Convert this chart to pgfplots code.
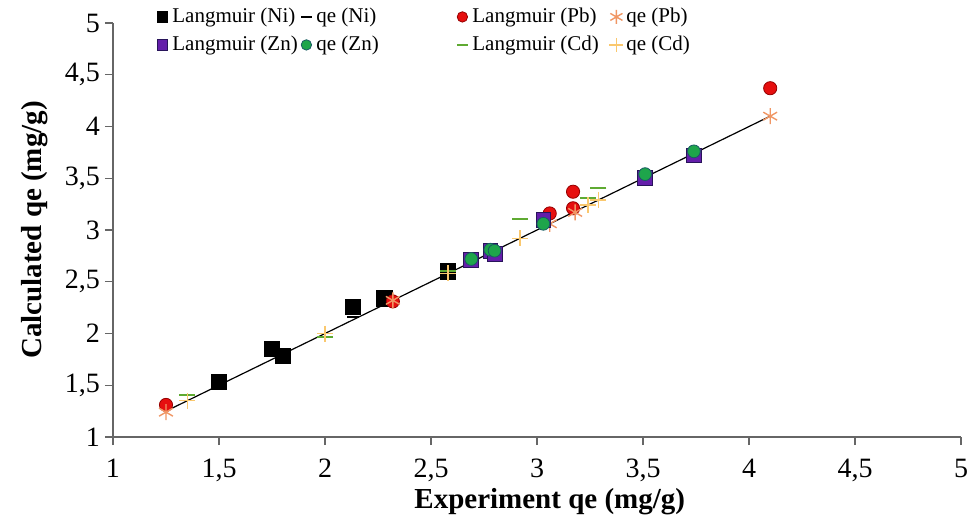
\documentclass[border=0pt]{standalone}
\usepackage{fontspec}
\setmainfont{Liberation Serif}
\usepackage{pgfplots}
\pgfplotsset{compat=1.18}
\definecolor{znfill}{RGB}{100,30,170}
\definecolor{zndraw}{RGB}{40,20,90}
\definecolor{pbfill}{RGB}{230,15,15}
\definecolor{pbdraw}{RGB}{150,0,0}
\definecolor{zngreen}{RGB}{30,165,75}
\definecolor{zngdraw}{RGB}{25,90,100}
\definecolor{cdgreen}{RGB}{95,170,50}
\definecolor{pbqe}{RGB}{240,150,100}
\definecolor{cdqe}{RGB}{250,200,110}
\pgfplotsset{
  lm/.style={only marks, legend image code/.code={%
    \path[draw=none,fill=none] (0pt,-3pt) rectangle (8.5pt,3pt);
    \draw[##1,mark size=#1] plot[only marks] coordinates {(4pt,0pt)};}},
  lm/.default=2.6pt,
}
\begin{document}
\begin{tikzpicture}
\begin{axis}[
  at={(56.5pt,39.5pt)}, anchor=south west,
  scale only axis, width=424pt, height=207pt,
  xmin=1, xmax=5, ymin=1, ymax=5,
  axis x line=bottom, axis y line=left,
  axis line style={-, black!60, line width=0.6pt},
  xtick distance=0.5, ytick distance=0.5,
  tick align=outside, major tick length=4pt,
  tick style={black!60, line width=0.6pt},
  /pgf/number format/use comma,
  /pgf/number format/assume math mode=true,
  ticklabel style={font=\fontsize{14}{16}\selectfont},
  xticklabel style={yshift=-3.5pt},
  yticklabel style={xshift=1pt},
  xlabel={Experiment qe (mg/g)},
  ylabel={Calculated qe (mg/g)},
  label style={font=\fontsize{14.5}{16}\selectfont\bfseries},
  xlabel style={at={(axis description cs:0.515,0)}, anchor=center, yshift=-32.5pt},
  ylabel style={at={(axis description cs:-0.092,0.5)}, anchor=center},
  legend columns=4,
  legend style={at={(0,1)}, anchor=north west, xshift=20.5pt, yshift=9pt,
    draw=none, fill=none, font=\fontsize{10.5}{12}\selectfont, row sep=2.5pt,
    inner sep=0pt, nodes={inner sep=0.5pt, text height=8pt, text depth=2.5pt}},
  legend cell align=left,
]
\addplot[black, line width=0.6pt, forget plot] coordinates {(1.25,1.25) (4.10,4.10)};
% Langmuir (Ni)
\addplot[lm, mark=square*, mark size=3.8pt, black] coordinates {
(1.50,1.53) (1.75,1.85) (1.80,1.78) (2.13,2.26) (2.28,2.34) (2.58,2.60)};
\addlegendentry{\makebox[62.5pt][l]{Langmuir (Ni)}}
% qe (Ni)
\addplot[lm, mark=-, mark size=3pt, black, line width=1pt] coordinates {
(1.50,1.50) (1.75,1.78) (1.80,1.80) (2.13,2.16) (2.28,2.30) (2.58,2.58)};
\addlegendentry{\makebox[68.5pt][l]{qe (Ni)}}
% Langmuir (Pb)
\addplot[lm, mark=*, mark size=3.3pt, draw=pbdraw, fill=pbfill] coordinates {
(1.25,1.31) (2.32,2.31) (3.06,3.16) (3.17,3.37) (3.17,3.21) (4.10,4.37)};
\addlegendentry{\makebox[67.5pt][l]{Langmuir (Pb)}}
% qe (Pb)
\addplot[lm=3.5pt, mark=asterisk, mark size=4pt, pbqe, line width=0.7pt] coordinates {
(1.25,1.24) (2.32,2.32) (3.06,3.06) (3.18,3.17) (4.10,4.10)};
\addlegendentry{qe (Pb)}
% Langmuir (Zn)
\addplot[lm, mark=square*, mark size=3.7pt, draw=zndraw, fill=znfill] coordinates {
(2.69,2.71) (2.78,2.80) (2.80,2.77) (3.03,3.10) (3.51,3.50) (3.74,3.72)};
\addlegendentry{\makebox[62.5pt][l]{Langmuir (Zn)}}
% qe (Zn)
\addplot[lm, mark=*, mark size=3.2pt, draw=zngdraw, fill=zngreen] coordinates {
(2.69,2.72) (2.78,2.81) (2.80,2.80) (3.03,3.06) (3.51,3.54) (3.74,3.76)};
\addlegendentry{\makebox[68.5pt][l]{qe (Zn)}}
% Langmuir (Cd)
\addplot[lm, mark=-, mark size=4pt, cdgreen, line width=1pt] coordinates {
(1.35,1.41) (2.00,1.97) (2.58,2.60) (2.92,3.11) (3.24,3.31) (3.29,3.41)};
\addlegendentry{\makebox[67.5pt][l]{Langmuir (Cd)}}
% qe (Cd)
\addplot[lm=3.5pt, mark=+, mark size=4pt, cdqe, line width=0.7pt] coordinates {
(1.35,1.35) (2.00,2.00) (2.58,2.58) (2.92,2.92) (3.24,3.24) (3.29,3.29)};
\addlegendentry{qe (Cd)}
\end{axis}
\pgfresetboundingbox
\path[use as bounding box] (0,0) rectangle (484.5pt,258pt);
\end{tikzpicture}
\end{document}
